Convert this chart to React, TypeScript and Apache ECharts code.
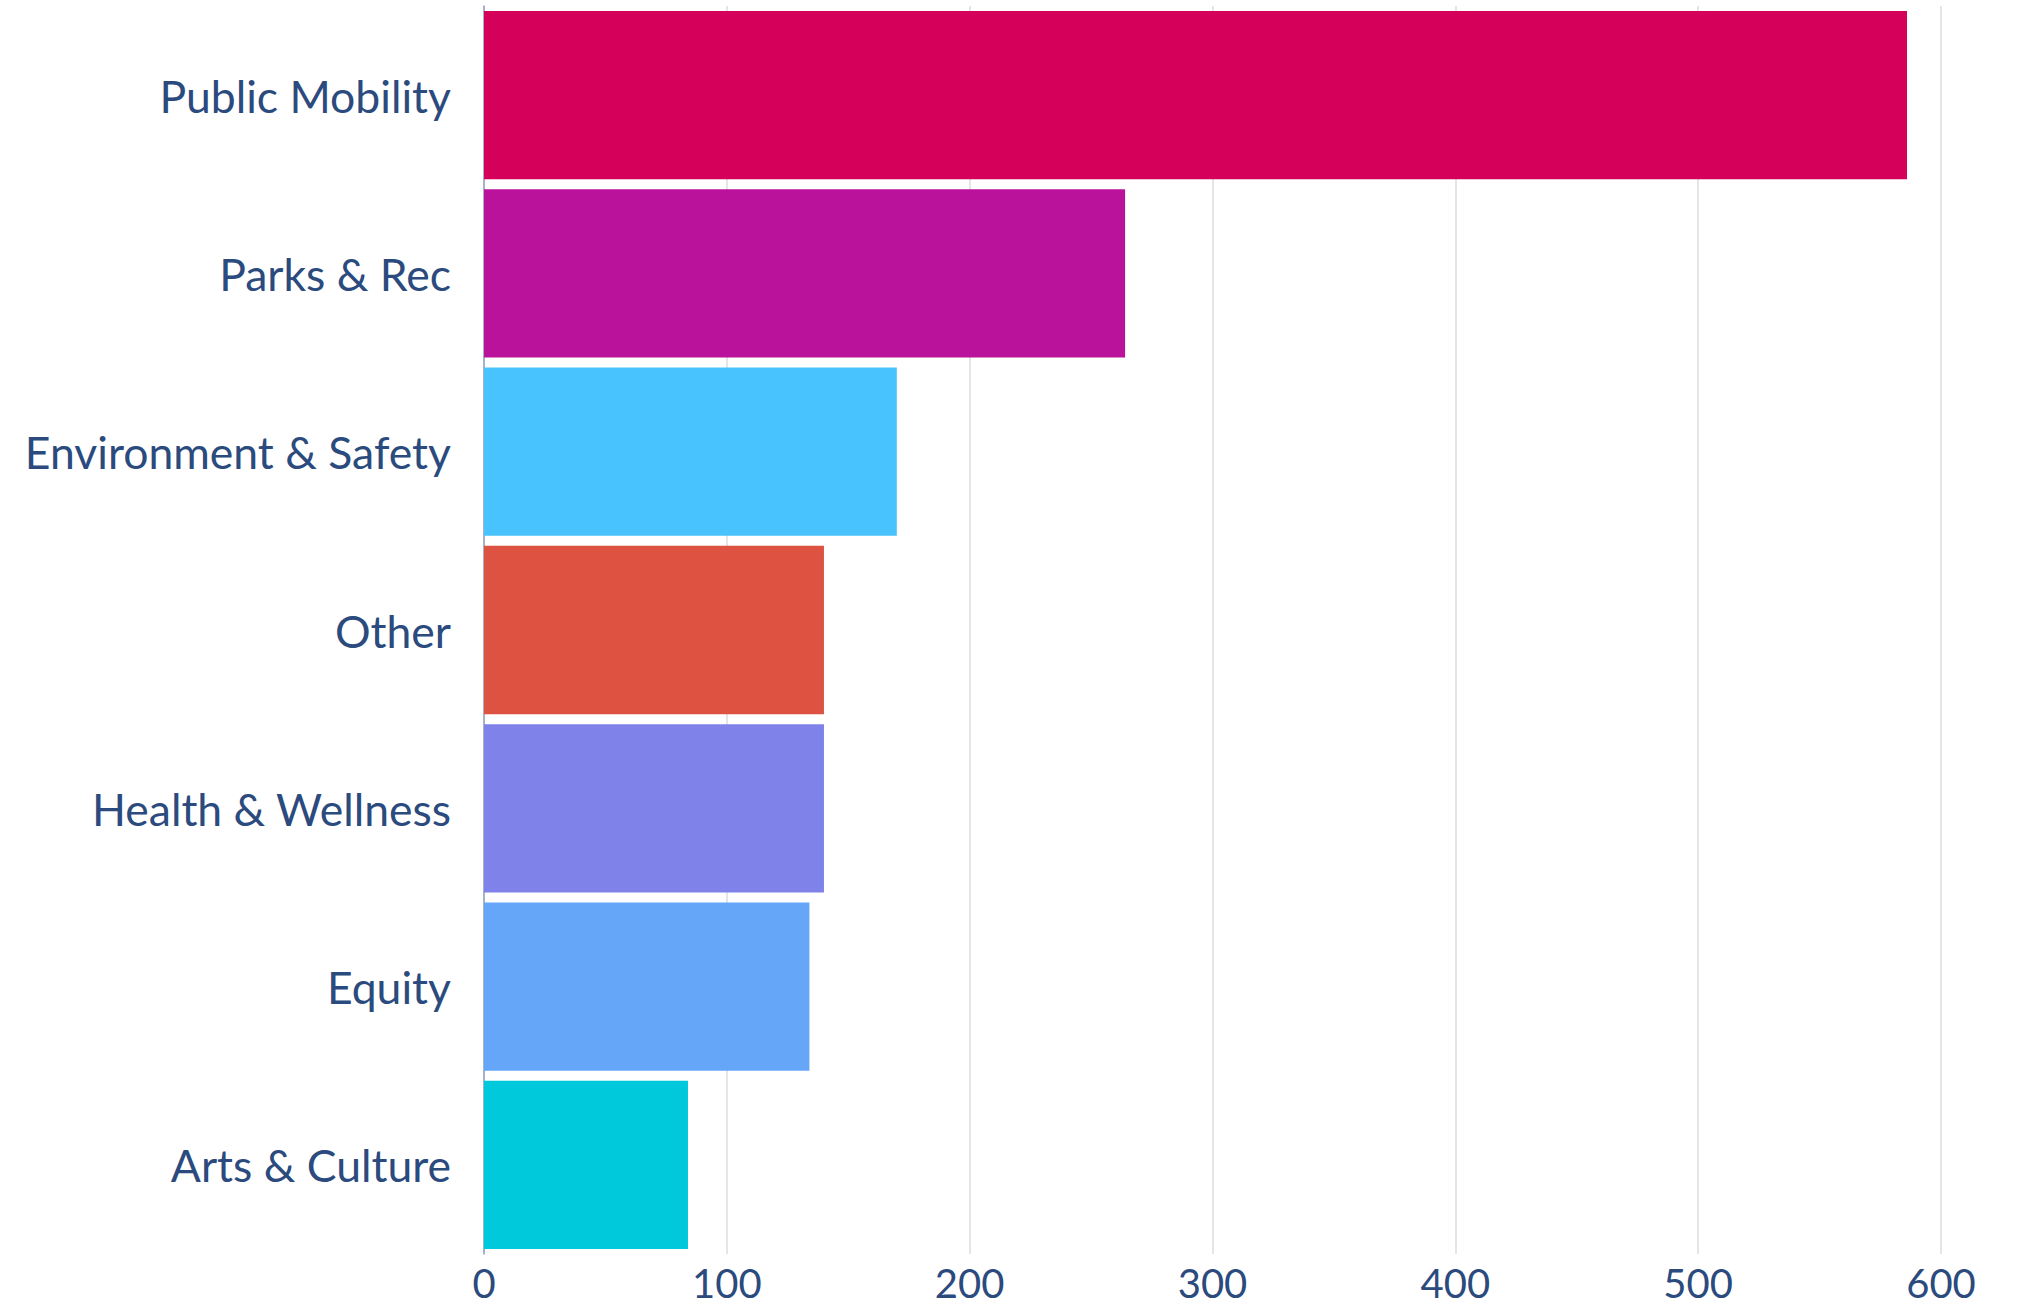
import React, { useEffect, useRef } from "react";
import * as echarts from "echarts";

const categories = [
  "Public Mobility",
  "Parks & Rec",
  "Environment & Safety",
  "Other",
  "Health & Wellness",
  "Equity",
  "Arts & Culture",
];
const values = [586, 264, 170, 140, 140, 134, 84];
const barColors = ["#D4005A", "#BB129C", "#48C3FD", "#DE5242", "#7F82E8", "#65A6F9", "#00C9DB"];
const xTicks = [0, 100, 200, 300, 400, 500, 600];

export default function App() {
  const ref = useRef<HTMLDivElement>(null);
  useEffect(() => {
    if (!ref.current) return;
    const chart = echarts.init(ref.current, null, { renderer: "svg" });
    const textColor = "#2B4A7D";
    chart.setOption({
      animation: false,
      backgroundColor: "#ffffff",
      grid: { left: 484, right: 84, top: 6, height: 1248, containLabel: false },
      xAxis: {
        type: "value",
        min: xTicks[0],
        max: xTicks[xTicks.length - 1],
        interval: 100,
        axisLine: { show: false },
        axisTick: { show: false },
        splitLine: { show: true, lineStyle: { color: "#D9DEE5", width: 1.5 } },
        axisLabel: {
          color: textColor,
          fontFamily: "Lato",
          fontSize: 40,
          lineHeight: 42,
          margin: 8,
        },
      },
      yAxis: {
        type: "category",
        inverse: true,
        data: categories,
        axisLine: { show: true, lineStyle: { color: "#8FA2BE", width: 1.5 } },
        axisTick: { show: false },
        axisLabel: {
          color: textColor,
          fontFamily: "Lato",
          fontSize: 44.5,
          margin: 33,
        },
      },
      series: [
        {
          type: "bar",
          data: values.map((v, i) => ({ value: v, itemStyle: { color: barColors[i] } })),
          barCategoryGap: "5.6%",
        },
      ],
    });
    return () => chart.dispose();
  }, []);
  return (
    <div
      ref={ref}
      style={{ position: "absolute", left: 0, top: 0, width: 2025, height: 1307 }}
    />
  );
}
